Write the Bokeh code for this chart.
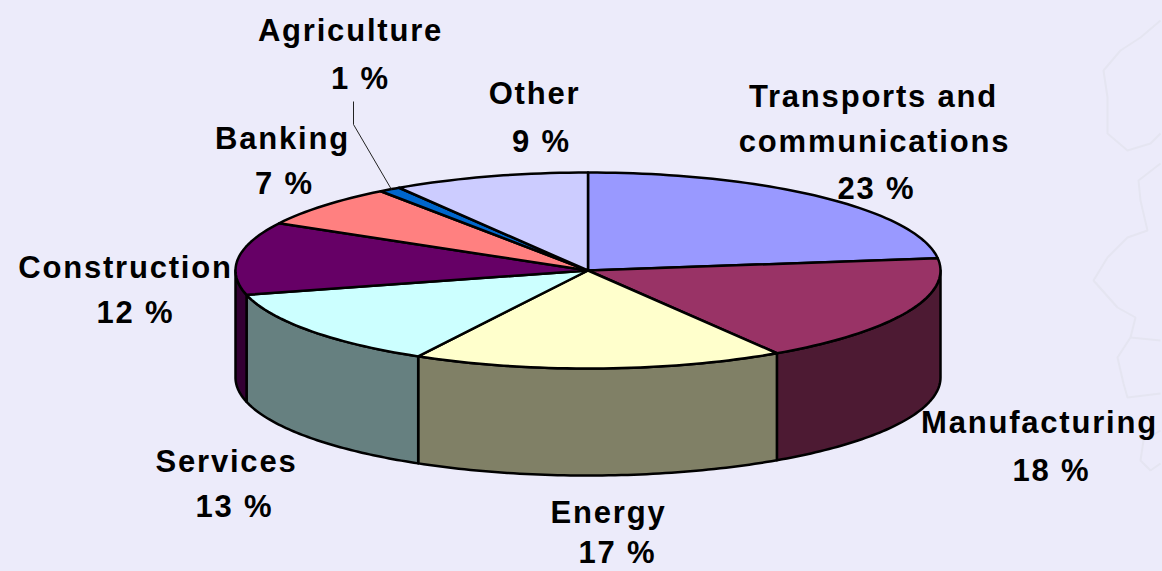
import numpy as np
from bokeh.plotting import figure
from bokeh.models import ColumnDataSource, Range1d
from bokeh.core.properties import value
from bokeh.embed import file_html
from bokeh.resources import INLINE

# --- data ---
sectors = ["Transports and communications", "Manufacturing", "Energy", "Services",
           "Construction", "Banking", "Agriculture", "Other"]
shares = [23, 18, 17, 13, 12, 7, 1, 9]
top_colors = ["#9999FF", "#993366", "#FFFFCC", "#CCFFFF", "#660066", "#FF8080", "#0066CC", "#CCCCFF"]
side_colors = ["#4D4D80", "#4D1A33", "#808066", "#668080", "#330033", "#804040", "#003366", "#666680"]

# --- layout ---
W, H = 1162, 571
BG = "#ECEBFA"
CX, CY, RX, RY, DEPTH = 587.5, 270, 352.5, 98, 107
SPACING = 1.8

label_lines = [
    ["Transports and", "communications", "23 %"], ["Manufacturing", "18 %"], ["Energy", "17 %"],
    ["Services", "13 %"], ["Construction", "12 %"], ["Banking", "7 %"], ["Agriculture", "1 %"], ["Other", "9 %"],
]
label_x = [[873, 874, 876], [1039, 1051], [608, 617], [226, 234], [125, 135], [282, 284], [350, 360], [534, 541]]
label_y = [[96, 141, 188], [422, 470], [512, 552], [461, 506], [267, 312], [138, 183], [30, 78], [93, 141]]

map_lines = [
    [(1160, 20), (1140, 37), (1120, 50), (1103, 70), (1107, 97), (1107, 133), (1127, 150), (1150, 143), (1160, 133)],
    [(1160, 163), (1138, 180), (1140, 200), (1147, 230), (1127, 237), (1107, 257), (1093, 280), (1117, 307),
     (1135, 317), (1130, 337), (1117, 357), (1123, 383), (1127, 397), (1160, 393)],
    [(1160, 340), (1130, 337)],
    [(1160, 430), (1143, 440), (1140, 460), (1150, 470), (1160, 463)],
]
leader = [(353, 101), (353, 124), (391, 189)]

p = figure(width=W, height=H, output_backend="svg", toolbar_location=None,
           x_range=Range1d(0, W), y_range=Range1d(H, 0),
           min_border=0, outline_line_color=None, background_fill_color=BG,
           border_fill_color=BG)
p.axis.visible = False
p.grid.visible = False

for line in map_lines:
    p.line([a for a, _ in line], [b for _, b in line], line_color="#E5E5F1", line_width=2)


def px(t):
    return CX + RX * np.sin(t)


def py(t):
    return CY - RY * np.cos(t)


edges = np.radians(np.cumsum([0] + shares) * 3.6)

# side walls of the front half of the disc
wx, wy, wc = [], [], []
for a, b, c in zip(edges[:-1], edges[1:], side_colors):
    lo, hi = max(a, np.pi / 2), min(b, 3 * np.pi / 2)
    if hi > lo:
        t = np.linspace(lo, hi, 60)
        wx.append(np.r_[px(t), px(t[::-1])])
        wy.append(np.r_[py(t), py(t[::-1]) + DEPTH])
        wc.append(c)
p.patches(wx, wy, fill_color=wc, line_color="black", line_width=2.5, line_join="round")

# top faces
sx, sy = [], []
for a, b in zip(edges[:-1], edges[1:]):
    t = np.linspace(a, b, max(int((b - a) * 40), 6))
    sx.append(np.r_[CX, px(t)])
    sy.append(np.r_[CY, py(t)])
p.patches(sx, sy, fill_color=top_colors, line_color="black", line_width=2.5, line_join="round")

# leader line for the small slice
p.line([a for a, _ in leader], [b for _, b in leader], line_color="#222222", line_width=1)

# labels (letter spacing shifts the centred text, so the centre is compensated)
tx, ty, ts = [], [], []
for lines, xs, ys in zip(label_lines, label_x, label_y):
    tx += [x - len(s) * SPACING / 2 for x, s in zip(xs, lines)]
    ty += ys
    ts += lines
src = ColumnDataSource(dict(x=tx, y=ty, text=ts))
p.text("x", "y", text="text", source=src, text_font=value("Liberation Sans"), text_font_style="bold",
       text_font_size="31px", text_color="black", text_align="center", text_baseline="middle")

html = file_html(p, INLINE)
style = ("<style>html,body{margin:0;padding:0;overflow:hidden;background:%s;letter-spacing:%spx}</style>" % (BG, SPACING))
html = html.replace("</head>", style + "</head>", 1)
open("out.html", "w").write(html)
